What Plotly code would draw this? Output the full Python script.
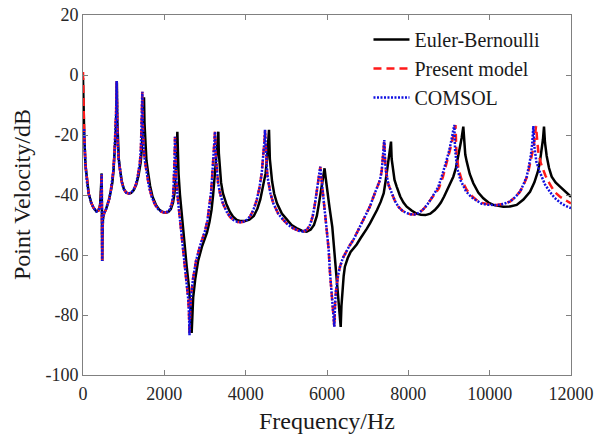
import plotly.graph_objects as go

# Euler-Bernoulli (black solid)
freq_eb = [0, 15, 30, 60, 100, 140, 200, 260, 330, 380, 420, 440, 452, 460, 466, 472, 478, 490, 520, 560, 600, 640, 680,
           720, 750, 780, 805, 820, 833, 843, 855, 880, 915, 955, 1005, 1065, 1125, 1185, 1245, 1310, 1365, 1420, 1450,
           1475, 1500, 1512, 1532, 1560, 1600, 1650, 1710, 1790, 1870, 1950, 2030, 2100, 2160, 2215, 2250, 2275, 2300,
           2320, 2330, 2350, 2385, 2430, 2490, 2550, 2600, 2630, 2655, 2672, 2688, 2710, 2760, 2830, 2930, 3000, 3050,
           3110, 3160, 3200, 3240, 3270, 3300, 3328, 3340, 3365, 3395, 3440, 3520, 3610, 3690, 3780, 3880, 3984, 4090,
           4200, 4290, 4360, 4430, 4490, 4525, 4545, 4560, 4574, 4595, 4620, 4650, 4700, 4770, 4890, 5010, 5130, 5260,
           5380, 5500, 5600, 5680, 5750, 5800, 5850, 5890, 5920, 5940, 5965, 6000, 6060, 6130, 6180, 6230, 6260, 6290,
           6315, 6337, 6355, 6380, 6410, 6440, 6510, 6580, 6660, 6730, 6820, 6900, 6980, 7060, 7150, 7230, 7320, 7395,
           7440, 7480, 7515, 7545, 7574, 7590, 7620, 7660, 7713, 7800, 7880, 7960, 8080, 8200, 8310, 8420, 8540, 8650,
           8730, 8800, 8880, 8960, 9030, 9106, 9170, 9229, 9280, 9311, 9352, 9375, 9400, 9435, 9510, 9598, 9720, 9844,
           9970, 10090, 10210, 10336, 10500, 10665, 10830, 10992, 11100, 11196, 11245, 11279, 11310, 11336, 11360,
           11402, 11460, 11525, 11620, 11730, 11860, 12000]
db_eb = [-1, -12, -20, -30, -36, -39.5, -42.5, -44.3, -45.5, -45.2, -43.5, -40, -35, -32.8, -48, -62, -54, -48, -46, -45,
         -43.5, -41.5, -39, -36, -32, -26, -19, -12, -2.5, -15, -22, -28, -32, -35.5, -38, -39.2, -39.5, -39.3, -38.4,
         -36.5, -33.5, -29, -24, -16, -7.4, -16, -24, -28.5, -32.5, -37, -40.6, -43.2, -44.8, -45.6, -45.9, -45.6, -44.7,
         -42.5, -39.4, -34, -27, -18.9, -26, -33, -40, -47, -55, -63.9, -70, -75, -80, -86, -79, -74, -68, -62, -57,
         -54.5, -52.5, -49, -45, -40, -34, -29, -24, -18.9, -26, -31.7, -35.8, -39.4, -42.8, -45.6, -47.2, -48.3, -48.7,
         -48.7, -48.2, -47, -44.5, -41.5, -37, -32.8, -28, -25, -21.5, -18.3, -28, -33, -35.5, -39.5, -42.8, -46.2,
         -48.3, -50, -51.1, -51.9, -52.2, -51.5, -50, -47, -43, -39, -35, -32.5, -31.1, -34, -38, -44, -50.6, -58, -67.2,
         -72, -76, -80, -84, -77, -72, -67, -63.9, -61, -59, -57.8, -56.5, -54.5, -53, -51.2, -49.4, -47.3, -45, -42.3,
         -39.4, -35.5, -32, -28, -25.5, -22.2, -28, -32, -35, -37.2, -40.5, -42.5, -43.9, -45.2, -46.2, -46.6, -46.7,
         -46.2, -45, -43.8, -42.5, -40.5, -38, -36, -33.9, -31, -27.2, -24, -21, -17.2, -23, -26.5, -28.8, -33, -36.1,
         -39.2, -41.1, -42.5, -43.3, -43.7, -43.9, -43.8, -43.3, -41.5, -38.9, -35.8, -31.7, -28, -25, -21.5, -17.2,
         -22.5, -27, -31, -33.9, -35.8, -37.2, -39, -40.6]

# Present model (red dashed)
freq_pm = [0, 15, 30, 60, 100, 140, 200, 260, 330, 380, 420, 440, 452, 460, 466, 472, 478, 490, 520, 560, 600, 640, 680,
           715, 745, 775, 800, 815, 828, 838, 850, 875, 910, 950, 1000, 1060, 1120, 1180, 1240, 1300, 1350, 1400, 1425,
           1445, 1459, 1470, 1490, 1520, 1566, 1620, 1689, 1770, 1852, 1930, 2016, 2080, 2139, 2190, 2221, 2240, 2252,
           2262, 2272, 2290, 2330, 2385, 2450, 2508, 2560, 2590, 2607, 2619, 2635, 2656, 2705, 2779, 2877, 2950, 3000,
           3060, 3110, 3150, 3180, 3209, 3230, 3246, 3260, 3288, 3320, 3369, 3440, 3534, 3610, 3696, 3800, 3902, 4000,
           4107, 4190, 4271, 4340, 4394, 4430, 4451, 4465, 4475, 4500, 4530, 4557, 4610, 4680, 4800, 4925, 5050, 5171,
           5300, 5418, 5510, 5582, 5650, 5705, 5750, 5786, 5815, 5835, 5860, 5902, 5950, 5993, 6040, 6074, 6110, 6135,
           6160, 6180, 6200, 6221, 6270, 6320, 6390, 6467, 6550, 6647, 6730, 6811, 6900, 6976, 7060, 7131, 7220, 7303,
           7345, 7377, 7395, 7409, 7425, 7450, 7510, 7591, 7670, 7753, 7850, 7950, 8050, 8150, 8250, 8350, 8450, 8550,
           8650, 8750, 8850, 8943, 9010, 9066, 9110, 9160, 9180, 9229, 9300, 9435, 9560, 9681, 9800, 9927, 10050, 10172,
           10330, 10500, 10620, 10746, 10840, 10930, 10990, 11040, 11080, 11115, 11140, 11170, 11200, 11260, 11370,
           11484, 11600, 11730, 11860, 12000]
db_pm = [1, -12, -20, -30, -36, -39.5, -42.5, -44.3, -45.5, -45.2, -43.5, -41, -36, -33, -48, -62, -54, -48, -46, -45,
         -43.5, -41.5, -39, -36, -32, -26, -19, -12, -2, -15, -22, -28, -32, -35.5, -38, -39.2, -39.5, -39.3, -38.4,
         -36.5, -33.5, -29, -24, -16, -5.6, -16, -24, -28.5, -32.5, -37, -40.6, -43.2, -44.8, -45.6, -45.9, -45.6, -44.7,
         -42.5, -39.4, -34, -28, -20.6, -27, -34, -41, -48, -56, -63.9, -70, -75, -80, -86.7, -79, -74, -68, -62, -57,
         -54, -52, -48.5, -44, -39, -33, -28, -23, -18.9, -26, -31.7, -35.8, -39.4, -42.8, -45.6, -47.2, -48.3, -49,
         -49.1, -48.6, -47.2, -45, -41.7, -37.5, -32.8, -28, -25, -21.5, -18.3, -28, -33, -35.5, -39.5, -42.8, -46.2,
         -48.3, -50, -51.1, -51.9, -52.2, -51.5, -50, -47, -42.8, -39, -35, -32.5, -30.6, -34, -40, -45.5, -50.6, -58,
         -66, -72, -76, -80, -83.9, -76, -72, -67, -63.9, -61, -59, -57, -55, -52.8, -50.5, -48.3, -46.1, -43.7, -41,
         -38, -35, -32, -28, -25, -21.7, -28, -32, -36.5, -39.4, -42, -43.9, -45.2, -46, -46.4, -46.5, -46, -45, -43.5,
         -41.5, -39.8, -37.8, -34, -29.5, -26, -22.8, -20, -16.7, -25, -31, -34.5, -38.3, -40.3, -41.7, -42.6, -43,
         -43.3, -43.3, -43, -42.2, -40.8, -38.9, -36.5, -33.5, -30, -27.2, -24, -20, -17, -22, -26, -29.5, -33.5, -36.5,
         -39, -40.6, -41.8, -42.8]

# COMSOL (blue dotted)
freq_cs = [25, 60, 100, 140, 200, 260, 330, 380, 420, 440, 452, 460, 466, 472, 478, 490, 520, 560, 600, 640, 680,
           715, 745, 775, 800, 815, 828, 838, 850, 875, 910, 950, 1000, 1060, 1120, 1180, 1240, 1300, 1350, 1400, 1425,
           1445, 1459, 1470, 1490, 1520, 1566, 1620, 1689, 1770, 1852, 1930, 2016, 2080, 2139, 2190, 2221, 2240, 2252,
           2262, 2272, 2290, 2330, 2385, 2450, 2508, 2560, 2590, 2607, 2619, 2635, 2656, 2705, 2779, 2877, 2950, 3000,
           3060, 3110, 3150, 3180, 3209, 3230, 3246, 3260, 3288, 3320, 3369, 3440, 3534, 3610, 3696, 3800, 3902, 4000,
           4107, 4190, 4271, 4340, 4394, 4430, 4451, 4465, 4475, 4500, 4530, 4557, 4610, 4680, 4800, 4925, 5050, 5171,
           5300, 5418, 5510, 5582, 5650, 5705, 5750, 5786, 5815, 5835, 5860, 5902, 5950, 5993, 6040, 6074, 6110, 6135,
           6160, 6180, 6200, 6221, 6270, 6320, 6390, 6467, 6550, 6647, 6730, 6811, 6900, 6976, 7060, 7131, 7220, 7303,
           7345, 7377, 7395, 7409, 7425, 7450, 7510, 7591, 7670, 7753, 7850, 7950, 8050, 8150, 8250, 8350, 8450, 8550,
           8650, 8730, 8830, 8920, 8990, 9040, 9085, 9130, 9150, 9200, 9280, 9420, 9550, 9681, 9800, 9927, 10050, 10172,
           10330, 10500, 10620, 10746, 10830, 10911, 10970, 11009, 11045, 11075, 11100, 11150, 11238, 11360, 11484,
           11600, 11730, 11860, 12000]
db_cs = [-18, -30, -36, -39.5, -42.5, -44.3, -45.5, -45.2, -43.5, -41, -36, -33, -48, -62, -54, -48, -46, -45,
         -43.5, -41.5, -39, -36, -32, -26, -19, -12, -2, -15, -22, -28, -32, -35.5, -38, -39.2, -39.5, -39.3, -38.4,
         -36.5, -33.5, -29, -24, -16, -5.6, -16, -24, -28.5, -32.5, -37, -40.6, -43.2, -44.8, -45.6, -45.9, -45.6, -44.7,
         -42.5, -39.4, -34, -28, -20.6, -27, -34, -41, -48, -56, -63.9, -70, -75, -80, -86.7, -79, -74, -68, -62, -57,
         -54, -52, -48.5, -44, -39, -33, -28, -23, -18.9, -26, -31.7, -35.8, -39.4, -42.8, -45.6, -47.2, -48.3, -49,
         -49.1, -48.6, -47.2, -45, -41.7, -37.5, -32.8, -28, -25, -21.5, -18.3, -28, -33, -35.5, -39.5, -42.8, -46.2,
         -48.3, -50, -51.1, -51.9, -52.2, -51.5, -50, -47, -42.8, -39, -35, -32.5, -30.6, -34, -40, -45.5, -50.6, -58,
         -66, -72, -76, -80, -83.9, -76, -72, -67, -63.9, -61, -59, -57, -55, -52.8, -50.5, -48.3, -46.1, -43.7, -41,
         -38, -35, -32, -28, -25, -21.7, -28, -32, -36.5, -39.4, -42, -43.9, -45.2, -46, -46.4, -46.5, -46, -45, -43.5,
         -41.5, -39.5, -37.5, -33.5, -29.5, -26, -23, -20, -16.7, -25, -31, -35, -38.8, -40.7, -42, -42.9, -43.2, -43.4,
         -43.4, -43, -42.2, -40.8, -38.9, -36.5, -33.9, -30, -27.2, -23, -17, -24, -29, -32.5, -36.5, -39, -41, -42.5,
         -43.6, -44.4]

x_ticks = [0, 2000, 4000, 6000, 8000, 10000, 12000]
y_ticks = [-100, -80, -60, -40, -20, 0, 20]

FONT = "Liberation Serif, Times New Roman, serif"

fig = go.Figure()
fig.add_trace(go.Scatter(x=freq_eb, y=db_eb, mode="lines", name="Euler-Bernoulli",
                         line=dict(color="black", width=2.5)))
fig.add_trace(go.Scatter(x=freq_pm, y=db_pm, mode="lines", name="Present model",
                         line=dict(color="#ff1a1a", width=2.5, dash="8px,5px")))
fig.add_trace(go.Scatter(x=freq_cs, y=db_cs, mode="lines", name="COMSOL",
                         line=dict(color="#1010e0", width=2.5, dash="2px,1.5px")))

axis_common = dict(showline=True, linecolor="#808080", linewidth=1, mirror="ticks",
                   ticks="inside", ticklen=5, tickcolor="#808080", showgrid=False, zeroline=False,
                   automargin=False, ticklabeloverflow="allow",
                   tickfont=dict(family=FONT, size=18, color="#262626"))

fig.update_layout(
    width=596, height=437,
    margin=dict(l=83, r=25, t=15, b=62),
    paper_bgcolor="white", plot_bgcolor="white",
    font=dict(family=FONT, color="#1a1a1a"),
    showlegend=True,
    legend=dict(x=0.585, y=0.986, xanchor="left", yanchor="top", bgcolor="rgba(0,0,0,0)",
                font=dict(family=FONT, size=20, color="#1a1a1a"), tracegroupgap=0, itemwidth=36),
    xaxis=dict(range=[0, 12000], tickvals=x_ticks, ticktext=[str(v) for v in x_ticks],
               ticklabelstandoff=2, **axis_common),
    yaxis=dict(range=[-100, 20], tickvals=y_ticks, ticktext=[str(v) for v in y_ticks],
               **axis_common),
    annotations=[
        dict(text="Frequency/Hz", xref="paper", yref="paper", x=0.5, y=0, xanchor="center", yanchor="middle",
             yshift=-46, showarrow=False, font=dict(family=FONT, size=24, color="#1a1a1a")),
        dict(text="Point Velocity/dB", xref="paper", yref="paper", x=0, y=0.5, xanchor="center", yanchor="middle",
             xshift=-61, textangle=-90, showarrow=False, font=dict(family=FONT, size=24, color="#1a1a1a")),
    ],
)

# remove the browser's default 8px body margin so the figure fills the window exactly
fig.write_html("out.html", config={"displayModeBar": False},
               post_script="document.body.style.margin='0';")
